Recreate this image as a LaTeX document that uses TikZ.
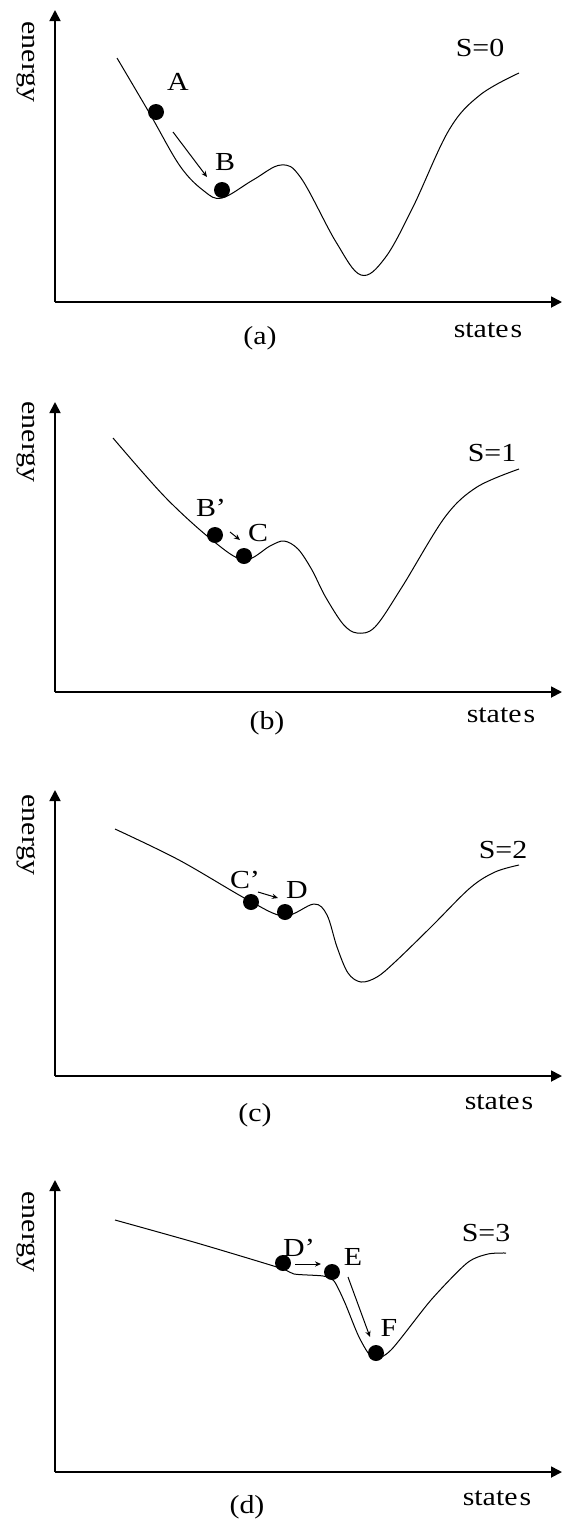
\documentclass[tikz,border=0pt]{standalone}
\usepackage{fontspec}
\setmainfont{Liberation Serif}[FakeStretch=1.15]
\usetikzlibrary{arrows.meta}

\begin{document}
\begin{tikzpicture}[
  x=0.5pt, y=-0.5pt,
  font=\fontsize{13}{15}\selectfont,
  axis/.style={-{Triangle[length=5.5pt,width=5.5pt]}, line width=0.9pt},
  land/.style={line width=0.5pt},
  ball/.style={circle, fill=black, inner sep=0pt, minimum size=8pt},
  lab/.style={inner sep=1pt},
  move/.style={-{Stealth[length=3pt,width=2.6pt]}, line width=0.5pt},
]
\useasboundingbox (0,0) rectangle (563,1522);

% axes and captions of the four panels
\foreach \tp/\ax/\ey/\sx/\sy/\cx/\cy/\nm in
  {10/302/62/488/330/260/338/a, 402/692/442/501/715/267/723/b,
   790/1076/835/499/1102/255/1115/c, 1180/1472/1232/497/1498/247/1507/d}{
  \coordinate (org\nm) at (55,\ax);
  \coordinate (ytip\nm) at (55,\tp);
  \coordinate (xtip\nm) at (562,\ax);
  \draw[axis] (org\nm) -- (ytip\nm);
  \draw[axis] (org\nm) -- (xtip\nm);
  \node[lab, rotate=-90] (energy\nm) at (26,\ey) {energy};
  \node[lab] (states\nm) at (\sx,\sy) {state\hspace{1pt}s};
  \node[lab] (cap\nm) at (\cx,\cy) {(\nm)};
}

% (a)
\draw[land] plot[smooth, tension=0.6] coordinates {(117,58) (150,114) (180,166)
  (204,191) (222,198) (253,180) (281,165) (301,178) (336,242) (361,275) (385,258)
  (413,207) (449,130) (480,95) (519,73)};
\node[ball] (ballA) at (156,112) {};
\node[ball] (ballB) at (222,190) {};
\node[lab] (labA) at (178,82) {A};
\node[lab] (labB) at (225,162) {B};
\node[lab] (labS0) at (480,48) {S=0};
\coordinate (mvAfrom) at (173,132);
\coordinate (mvAto) at (207,177);
\draw[move] (mvAfrom) -- (mvAto);

% (b)
\draw[land] plot[smooth, tension=0.55] coordinates {(113,438) (165,497)
  (212,540) (244,560) (270,546) (284,541) (298,549) (312,570) (325,596)
  (343,624) (357,633) (375,627) (402,587) (445,517) (477,487) (519,469)};
\node[ball] (ballBp) at (215,535) {};
\node[ball] (ballC) at (244,556) {};
\node[lab] (labBp) at (211,508) {B'};
\node[lab] (labC) at (258,533) {C};
\node[lab] (labS1) at (492,453) {S=1};
\coordinate (mvBfrom) at (230,532);
\coordinate (mvBto) at (240,540);
\draw[move] (mvBfrom) -- (mvBto);

% (c)
\draw[land] plot[smooth, tension=0.55] coordinates {(115,829) (179,860) (248,900)
  (284,916) (314,904) (327,915) (337,947) (348,973) (361,982)
  (377,977) (395,962) (431,927) (470,888) (495,872) (519,865)};
\node[ball] (ballCp) at (251,902) {};
\node[ball] (ballD) at (285,912) {};
\node[lab] (labCp) at (245,880) {C'};
\node[lab] (labD) at (297,890) {D};
\node[lab] (labS2) at (503,850) {S=2};
\coordinate (mvCfrom) at (258,892);
\coordinate (mvCto) at (278,898);
\draw[move] (mvCfrom) -- (mvCto);

% (d)
\draw[land] plot[smooth, tension=0.45] coordinates {(115,1220) (197,1243) (280,1268)
  (294,1274) (323,1276) (334,1281) (345,1303) (359,1337) (373,1358) (391,1350)
  (431,1300) (467,1263) (488,1254) (506,1253)};
\node[ball] (ballDp) at (283,1263) {};
\node[ball] (ballE) at (332,1272) {};
\node[ball] (ballF) at (376,1353) {};
\node[lab] (labDp) at (299,1248) {D'};
\node[lab] (labE) at (353,1257) {E};
\node[lab] (labF) at (389,1328) {F};
\node[lab] (labS3) at (486,1233) {S=3};
\coordinate (mvDfrom) at (295,1264);
\coordinate (mvDto) at (321,1264);
\coordinate (mvEfrom) at (348,1277);
\coordinate (mvEto) at (370,1337);
\draw[move] (mvDfrom) -- (mvDto);
\draw[move] (mvEfrom) -- (mvEto);
\end{tikzpicture}
\end{document}
